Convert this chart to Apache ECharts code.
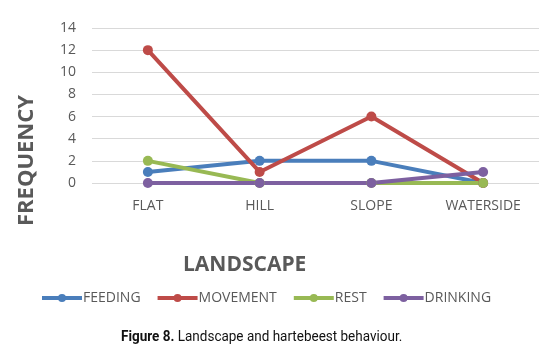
<!DOCTYPE html>
<html>
<head>
<meta charset="utf-8">
<script src="https://cdn.jsdelivr.net/npm/echarts@6/dist/echarts.min.js"></script>
<style>
  html, body { margin: 0; padding: 0; background: #fff; }
  #chart { width: 552px; height: 354px; }
</style>
</head>
<body>
<div id="chart"></div>
<script>
// landscape categories
var landscapes = ["FLAT", "HILL", "SLOPE", "WATERSIDE"];
var feeding = [1, 2, 2, 0];
var movement = [12, 1, 6, 0];
var rest = [2, 0, 0, 0];
var drinking = [0, 0, 0, 1];

var font = "Open Sans";
var grey = "#595959";

function mkSeries(name, data, color) {
  return {
    name: name,
    type: "line",
    data: data,
    symbol: "circle",
    symbolSize: 10,
    lineStyle: { width: 4, color: color },
    itemStyle: { color: color },
    emphasis: { disabled: true },
  };
}

var mychart = echarts.init(document.getElementById("chart"));
var option = {
  animation: false,
  grid: { left: 92, right: 13, top: 28, bottom: 171 },
  legend: {
    top: 286,
    left: 35,
    itemWidth: 40,
    itemHeight: 10,
    itemGap: 15,
    lineStyle: { width: 4 },
    textStyle: { fontFamily: font, fontSize: 14, color: grey, padding: [0, 0, 0, -4] },
    data: ["FEEDING", "MOVEMENT", "REST", "DRINKING"],
  },
  xAxis: {
    type: "category",
    data: landscapes,
    axisLine: { show: false },
    axisTick: { show: false },
    axisLabel: { fontFamily: font, fontSize: 14, color: grey, margin: 16 },
  },
  yAxis: {
    type: "value",
    min: 0,
    max: 14,
    interval: 2,
    axisLabel: { fontFamily: font, fontSize: 14, color: grey, margin: 16 },
    splitLine: { lineStyle: { color: "#d9d9d9", width: 1 } },
  },
  graphic: [
    {
      type: "text",
      left: 16,
      top: 95,
      rotation: Math.PI / 2,
      style: { text: "FREQUENCY", font: "bold 22px 'Open Sans'", fill: grey },
    },
    {
      type: "text",
      left: 183,
      top: 255,
      style: { text: "LANDSCAPE", font: "bold 21px 'Open Sans'", fill: grey },
    },
    {
      type: "text",
      left: 121,
      top: 330,
      scaleX: 0.9,
      style: {
        text: "{b|Figure 8.} Landscape and hartebeest behaviour.",
        font: "15px Roboto",
        fill: "#111",
        rich: { b: { fontFamily: "Roboto", fontSize: 15, fontWeight: "bold", fill: "#111" } },
      },
    },
  ],
  series: [
    mkSeries("FEEDING", feeding, "#4a7ebb"),
    mkSeries("MOVEMENT", movement, "#be4b48"),
    mkSeries("REST", rest, "#98b954"),
    mkSeries("DRINKING", drinking, "#7d60a0"),
  ],
};
mychart.setOption(option, true);
</script>
</body>
</html>
